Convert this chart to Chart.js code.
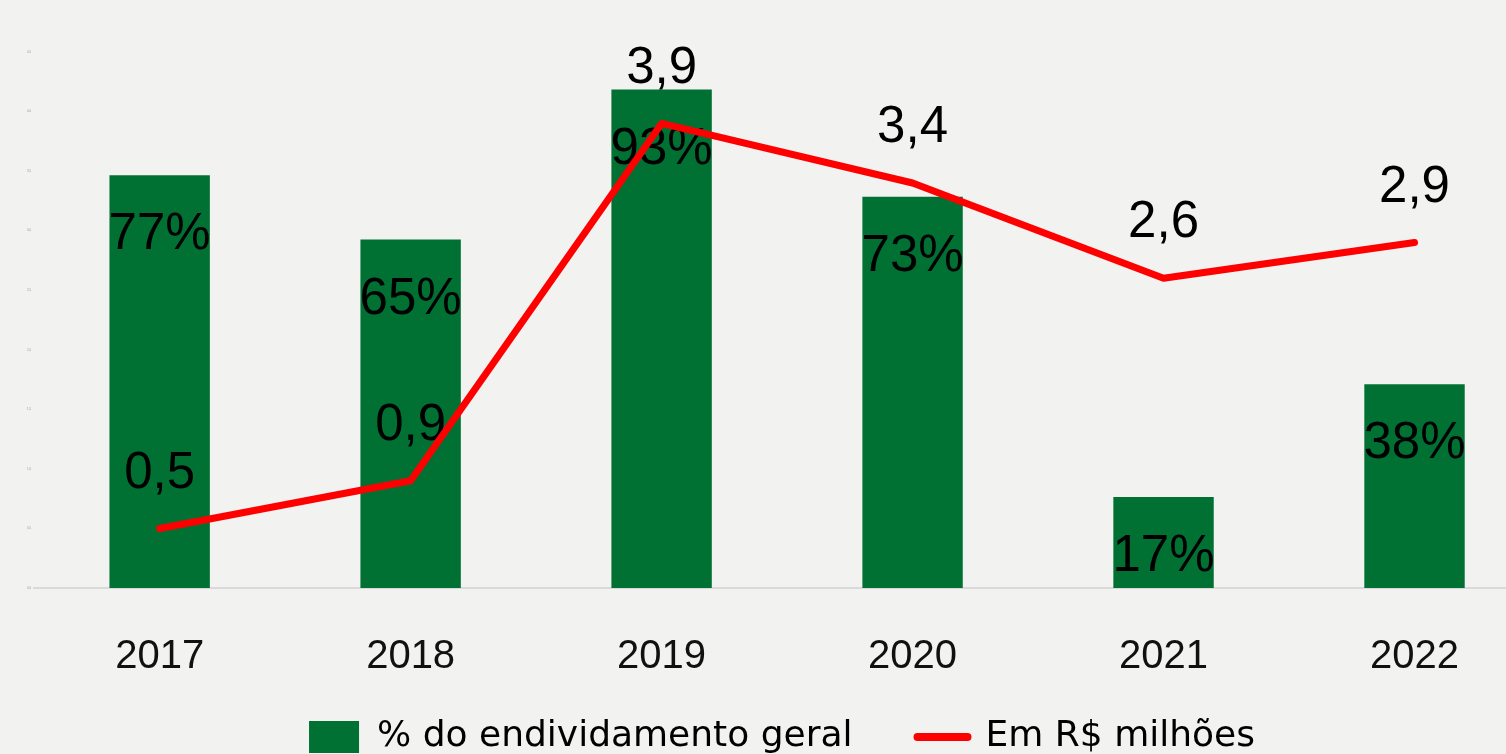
<!DOCTYPE html>
<html lang="pt-BR">
<head>
<meta charset="utf-8">
<title>Endividamento</title>
<script src="https://cdn.jsdelivr.net/npm/chart.js@4.4.1/dist/chart.umd.min.js"></script>
<style>
  html, body { margin: 0; padding: 0; background: #f2f2f0; overflow: hidden; }
  .chart-box { position: absolute; left: 0; top: 0; width: 1584px; height: 765px; }
</style>
</head>
<body>
<div class="chart-box"><canvas id="debtChart"></canvas></div>
<script>
const years = ['2017', '2018', '2019', '2020', '2021', '2022'];
const debtShare = [77, 65, 93, 73, 17, 38];          // % do endividamento geral
const debtMillions = [0.5, 0.9, 3.9, 3.4, 2.6, 2.9]; // Em R$ milhões

const fmtBR = v => v.toFixed(1).replace('.', ',');

// percentages inside the bars, amounts above the line
// (drawn right after the bars so the red line passes over them)
const valueLabels = {
    id: 'valueLabels',
    afterDatasetDraw(chart, args) {
        if (args.index !== 0) return;
        const ctx = chart.ctx;
        const bars = chart.getDatasetMeta(0).data;
        const points = chart.getDatasetMeta(1).data;
        ctx.save();
        ctx.fillStyle = '#000';
        ctx.font = '51px "Liberation Sans", Arial, sans-serif';
        ctx.textAlign = 'center';
        ctx.textBaseline = 'middle';
        bars.forEach((bar, i) => {
            ctx.fillText(debtShare[i] + '%', bar.x, bar.y + 60);
        });
        points.forEach((pt, i) => {
            ctx.fillText(fmtBR(debtMillions[i]), pt.x, pt.y - 55);
        });
        ctx.restore();
    }
};

// the x axis box is kept short so the legend sits close under it;
// let the year labels draw past its bottom edge instead of being clipped
const yearLabelRoom = {
    id: 'yearLabelRoom',
    afterLayout(chart) {
        chart.scales.x.bottom = chart.height;
    }
};

const ctx = document.getElementById('debtChart');
new Chart(ctx, {
    data: {
        labels: years,
        datasets: [{
            type: 'bar',
            label: '% do endividamento geral',
            data: debtShare,
            backgroundColor: '#007033',
            yAxisID: 'yShare',
            order: 1,
            barPercentage: 0.4,
            categoryPercentage: 1,
            pointStyle: 'rect'
        }, {
            type: 'line',
            label: 'Em R$ milhões',
            data: debtMillions,
            borderColor: '#ff0000',
            backgroundColor: '#ff0000',
            borderWidth: 7,
            borderCapStyle: 'round',
            borderJoinStyle: 'round',
            pointRadius: 0,
            tension: 0,
            yAxisID: 'yMillions',
            order: 0,
            pointStyle: 'line'
        }]
    },
    options: {
        responsive: true,
        maintainAspectRatio: false,
        animation: false,
        layout: {
            padding: { left: 24, right: 44, top: 52, bottom: 0 }
        },
        plugins: {
            tooltip: { enabled: false },
            legend: {
                position: 'bottom',
                labels: {
                    usePointStyle: true,
                    pointStyleWidth: 50,
                    boxHeight: 32,
                    padding: 65,
                    color: '#000',
                    font: { family: '"DejaVu Sans"', size: 36 },
                    sort: (a, b) => a.datasetIndex - b.datasetIndex,
                    generateLabels(chart) {
                        const items = Chart.defaults.plugins.legend.labels.generateLabels(chart);
                        items.forEach(item => {
                            if (item.datasetIndex === 1) {
                                item.lineCap = 'round';
                                item.lineWidth = 8;
                            }
                        });
                        return items;
                    }
                }
            }
        },
        scales: {
            x: {
                grid: { display: false, drawTicks: false },
                border: { color: '#d9d9d9', width: 2 },
                ticks: {
                    color: '#111',
                    padding: 45,
                    font: { family: '"Liberation Sans", Arial', size: 40 }
                },
                afterFit(scale) {
                    scale.height = 66;
                }
            },
            yShare: {
                display: false,
                min: 0,
                max: 100
            },
            yMillions: {
                position: 'left',
                min: 0,
                max: 4.5,
                grid: { display: false, drawTicks: false },
                border: { display: false },
                ticks: {
                    stepSize: 0.5,
                    padding: 3,
                    color: '#999',
                    font: { size: 3 },
                    callback: v => fmtBR(v)
                }
            }
        }
    },
    plugins: [valueLabels, yearLabelRoom]
});
</script>
</body>
</html>
